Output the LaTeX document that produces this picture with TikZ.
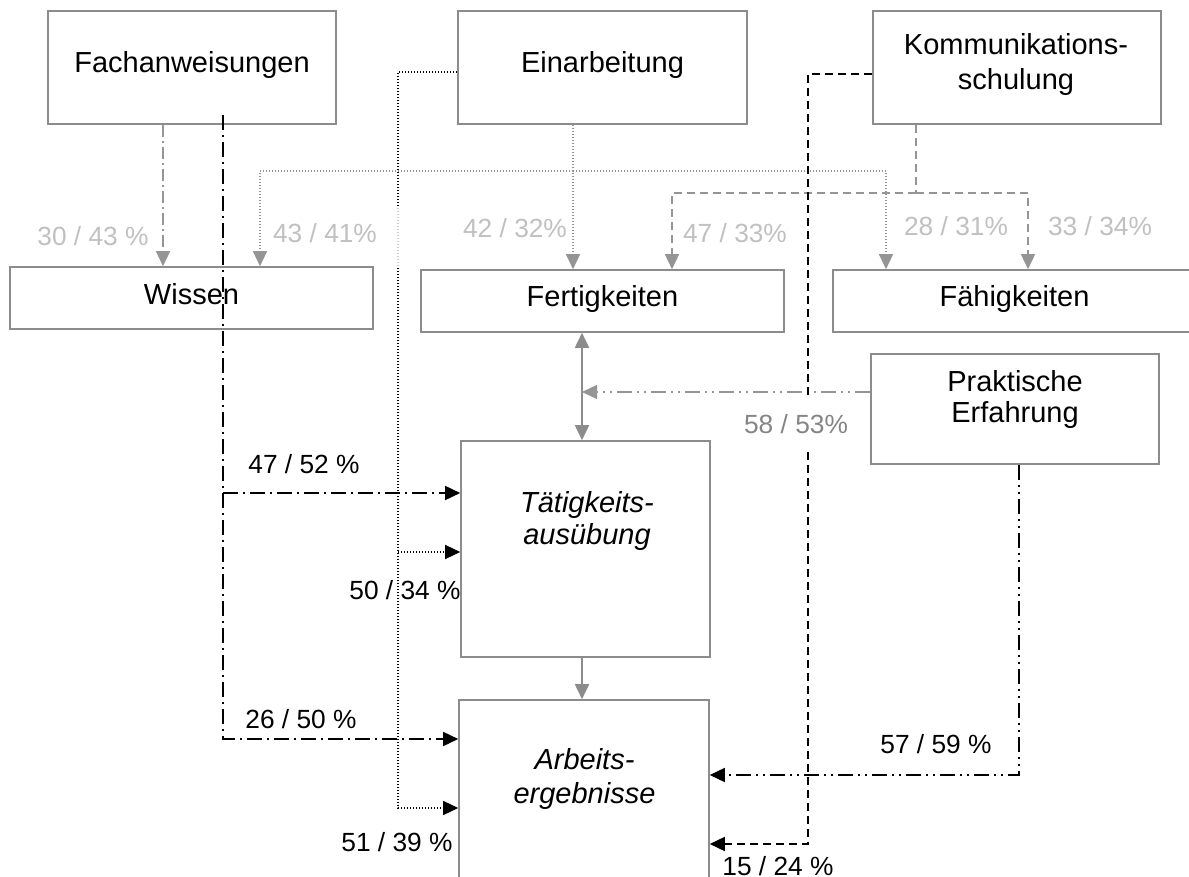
\documentclass[tikz,border=0pt]{standalone}
\usepackage{fontspec}
\setmainfont{Liberation Sans}
\usetikzlibrary{arrows.meta,calc}

\definecolor{boxgray}{HTML}{8C8C8C}
\definecolor{linegray}{HTML}{959595}
\definecolor{lightlabel}{HTML}{C0C0C0}
\definecolor{midlabel}{HTML}{858585}

\tikzset{
  box/.style={draw=boxgray, line width=1.6pt, inner sep=0pt},
  boxtext/.style={font=\fontsize{29}{35}\selectfont, anchor=base, inner sep=0pt, align=center},
  lab/.style={font=\fontsize{26.3}{30}\selectfont, anchor=base, inner sep=0pt},
  lablight/.style={lab, text=lightlabel},
  gsolid/.style={draw=boxgray, line width=1.8pt},
  gdashdot/.style={draw=linegray, line width=1.4pt, dash pattern=on 12pt off 4pt on 2pt off 4pt},
  gdotted/.style={draw=linegray, line width=1.2pt, dash pattern=on 1pt off 2pt},
  gdashed/.style={draw=linegray, line width=1.5pt, dash pattern=on 8pt off 5pt},
  gdashdotdot/.style={draw=linegray, line width=1.4pt, dash pattern=on 15pt off 5pt on 2pt off 5pt on 2pt off 5pt},
  bdashdot/.style={draw=black, line width=1.6pt, dash pattern=on 15pt off 5pt on 2pt off 5pt},
  bdotted/.style={draw=black, line width=1.4pt, dash pattern=on 1.4pt off 1.6pt},
  bdashed/.style={draw=black, line width=1.6pt, dash pattern=on 8pt off 5pt},
  bdashdotdot/.style={draw=black, line width=1.6pt, dash pattern=on 15pt off 5pt on 2pt off 5pt on 2pt off 5pt},
}

\begin{document}
\begin{tikzpicture}[x=1pt, y=-1pt, >={Triangle[length=15pt,width=14pt]}]
\clip (0,0) rectangle (1189,877);

% boxes
\node[box, minimum width=288pt, minimum height=113pt] (fach) at (192,67.5) {};
\node[box, minimum width=289pt, minimum height=113pt] (ein)  at (602.5,67.5) {};
\node[box, minimum width=288pt, minimum height=113pt] (komm) at (1017,67.5) {};
\node[box, minimum width=363pt, minimum height=62pt]  (wis)  at (191.5,298) {};
\node[box, minimum width=363pt, minimum height=62pt]  (fert) at (602.5,301) {};
\node[box, minimum width=363pt, minimum height=62pt]  (faeh) at (1014.5,301) {};
\node[box, minimum width=288pt, minimum height=110pt] (prak) at (1015,409) {};
\node[box, minimum width=249pt, minimum height=216pt] (taet) at (585.5,549) {};
\node[box, minimum width=250pt, minimum height=200pt] (arb)  at (584,800) {};

% box texts (base anchor = baseline of the last line)
\node[boxtext] (fachT) at (192,73) {Fachanweisungen};
\node[boxtext] (einT)  at (602.5,73) {Einarbeitung};
\node[boxtext] (kommT) at (1016,90) {Kommunikations-\\schulung};
\node[boxtext] (wisT)  at (191.5,305) {Wissen};
\node[boxtext] (fertT) at (602.5,307) {Fertigkeiten};
\node[boxtext] (faehT) at (1014.5,307) {Fähigkeiten};
\node[boxtext, font=\fontsize{29}{31.5}\selectfont] (prakT) at (1015,422.5) {Praktische\\Erfahrung};
\node[boxtext, font=\fontsize{29}{32}\selectfont\itshape] (taetT) at (587,544) {Tätigkeits-\\ausübung};
\node[boxtext, font=\fontsize{29}{34}\selectfont\itshape] (arbT) at (584.5,803) {Arbeits-\\ergebnisse};

% junction points
\coordinate (eJ) at (573,171);
\coordinate (kJ) at (916,193);
\coordinate (vx) at (582,392);
\coordinate (fS) at ($(fach.south)+(31,-10)$);
\coordinate (eW) at ($(ein.west)+(0,4.5)$);
\coordinate (eV) at (398,808);
\coordinate (kW) at ($(komm.west)+(0,6.5)$);
\coordinate (kV) at (808,844);
\coordinate (pV) at (1019,775);

% grey connectors
\draw[gdashdot,->] (fach.south -| 163,0) -- (wis.north -| 163,0);
\draw[gdotted,->] (ein.south -| eJ) -- (fert.north -| eJ);
\draw[gdotted,->] (eJ) -| (wis.north -| 260,0);
\draw[gdotted,->] (eJ) -| (faeh.north -| 886,0);
\draw[gdashed] (komm.south -| kJ) -- (kJ);
\draw[gdashed,->] (kJ) -| (fert.north -| 672,0);
\draw[gdashed,->] (kJ) -| (faeh.north -| 1028,0);
\draw[gsolid,<->] (fert.south -| vx) -- (taet.north -| vx);
\draw[gsolid,->] (taet.south -| vx) -- (arb.north -| vx);
\draw[gdashdotdot,->] (prak.west |- vx) -- (vx);

% black connectors
\draw[bdashdot,->] (fS) |- (arb.west |- 0,739);
\draw[bdashdot,->] (fS |- 0,493) -- (taet.west |- 0,493);
\draw[bdotted,->] (eW) -| (eV) -- (arb.west |- eV);
\draw[bdotted,->] (eV |- 0,552) -- (taet.west |- 0,552);
\fill[white, opacity=0.8] (393,208) rectangle (403,267);
\draw[bdashed,->] (kW) -| (kV) -- (arb.east |- kV);
\draw[bdashdotdot,->] (prak.south -| pV) -- (pV) -- (arb.east |- pV);

% percentages
\node[lablight] (l1) at (93,246) {30 / 43 \%};
\node[lablight] (l2) at (325,243) {43 / 41\%};
\node[lablight] (l3) at (515,238) {42 / 32\%};
\node[lablight] (l4) at (735,243) {47 / 33\%};
\node[lablight] (l5) at (956,236) {28 / 31\%};
\node[lablight] (l6) at (1100,236) {33 / 34\%};
\node[lab, text=midlabel, fill=white, inner ysep=18pt, inner xsep=4pt] (l7) at (796,433) {58 / 53\%};
\node[lab] (l8)  at (304,473) {47 / 52 \%};
\node[lab] (l9)  at (405,599) {50 / 34 \%};
\node[lab] (l10) at (301,728) {26 / 50 \%};
\node[lab] (l11) at (397,851) {51 / 39 \%};
\node[lab] (l12) at (936,753) {57 / 59 \%};
\node[lab] (l13) at (778,875) {15 / 24 \%};
\end{tikzpicture}
\end{document}
